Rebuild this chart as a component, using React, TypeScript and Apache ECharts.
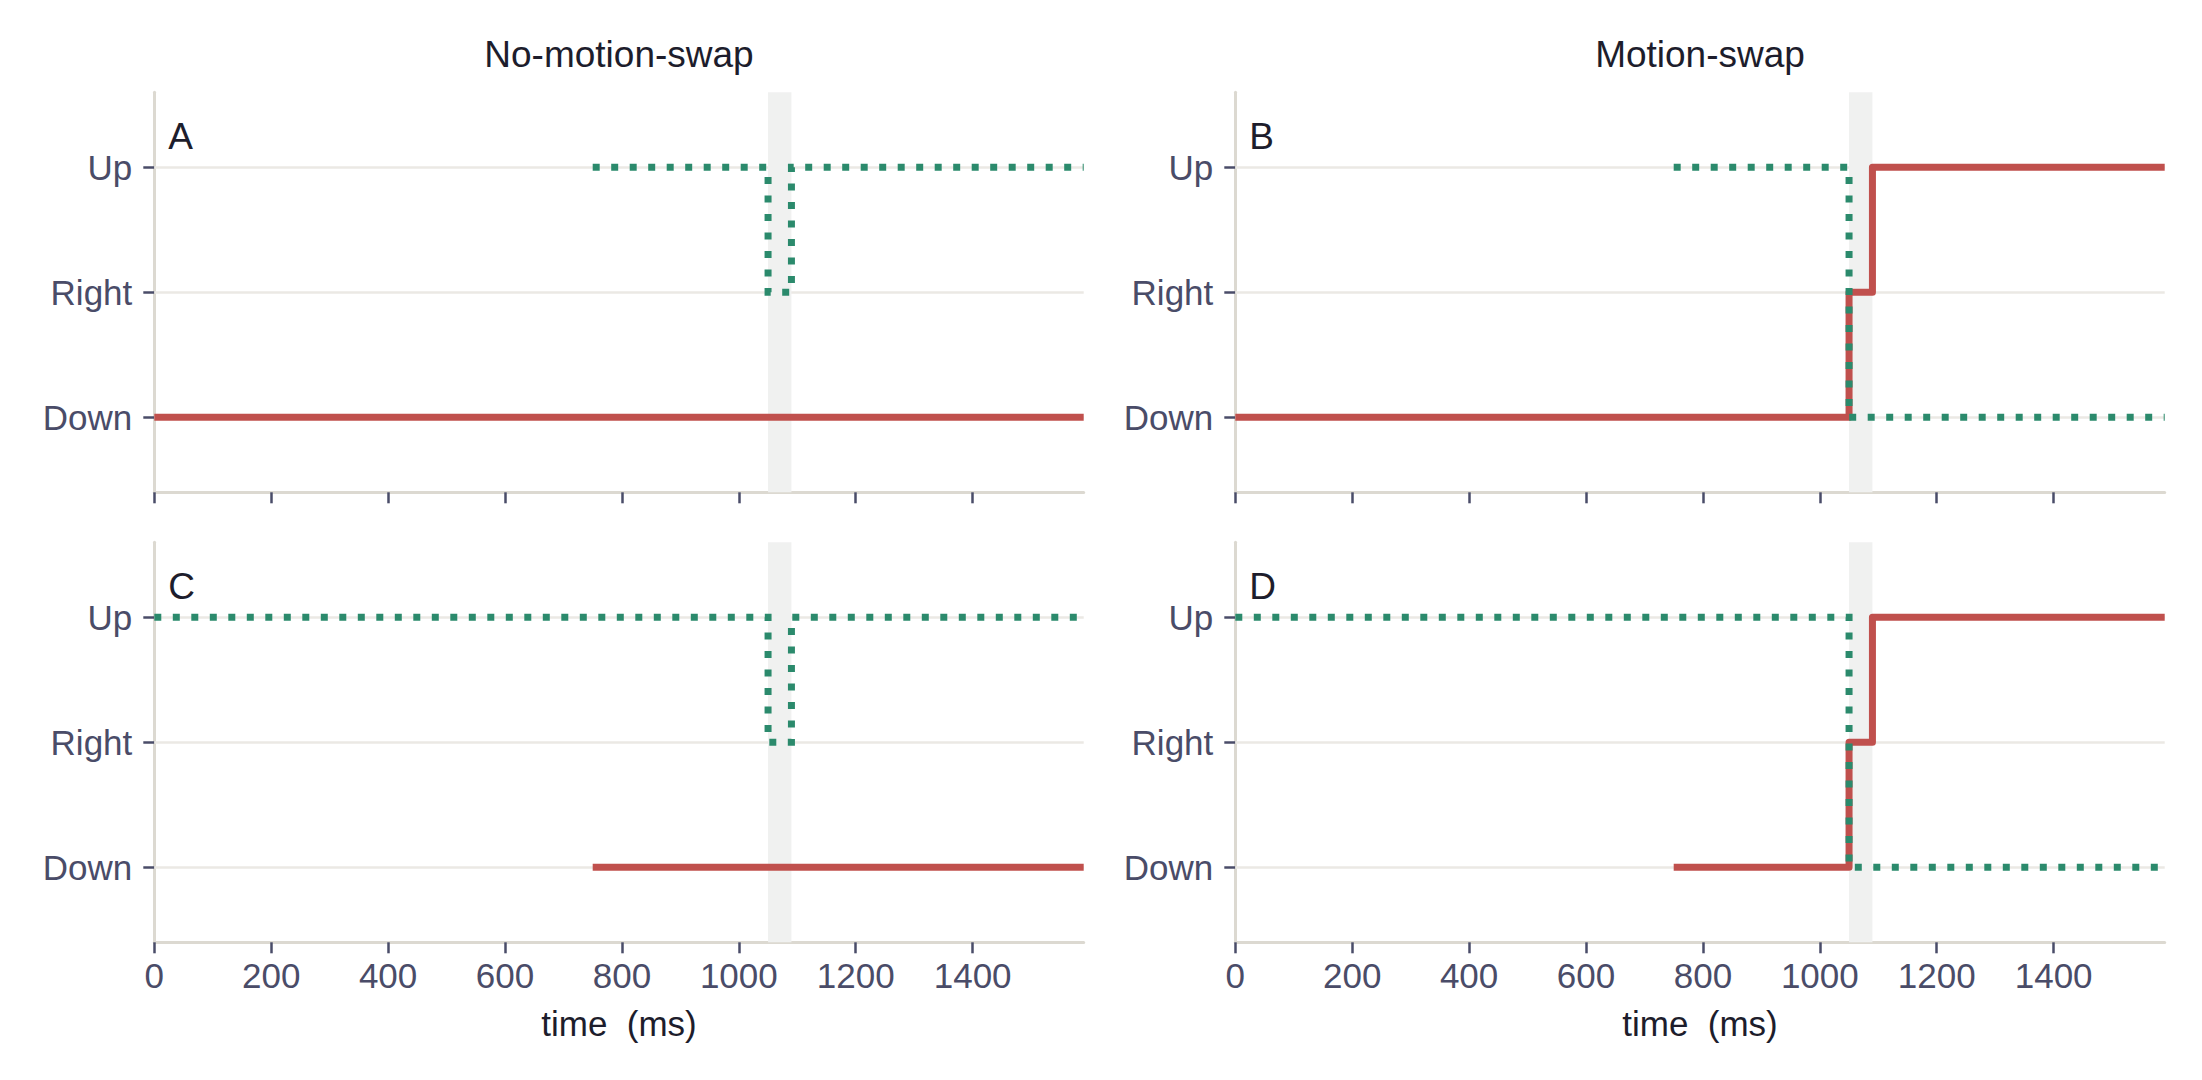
import React, { useEffect, useRef } from 'react';
import * as echarts from 'echarts';

// Direction levels on the y axis (index = plotted value)
const directions = ['Down', 'Right', 'Up'];
const directionTicks = [0, 1, 2];
const timeTicks = [0, 200, 400, 600, 800, 1000, 1200, 1400];
const timeMax = 1590;
const swapWindow = [1050, 1090];
const columnTitles = ['No-motion-swap', 'Motion-swap'];
const panelLetters = ['A', 'B', 'C', 'D'];
const timeLabel = 'time  (ms)';

// Step traces as [time (ms), direction index]
const solidA = [[0, 0], [1590, 0]];
const dottedA = [[750, 2], [1050, 1], [1090, 2], [1590, 2]];
const solidB = [[0, 0], [1050, 1], [1090, 2], [1590, 2]];
const dottedB = [[750, 2], [1050, 0], [1590, 0]];
const solidC = [[750, 0], [1590, 0]];
const dottedC = [[0, 2], [1050, 1], [1090, 2], [1590, 2]];
const solidD = [[750, 0], [1050, 1], [1090, 2], [1590, 2]];
const dottedD = [[0, 2], [1050, 0], [1590, 0]];

const solidTraces = [solidA, solidB, solidC, solidD];
const dottedTraces = [dottedA, dottedB, dottedC, dottedD];

const FONT = "'Liberation Sans', Arial, Helvetica, sans-serif";
const RED = '#c0504d';
const GREEN = '#2b8a6c';
const AXIS = '#dcd9d1';
const TICK = '#4a4c68';
const GRIDLINE = '#ebe9e4';
const BAND = '#f0f1f0';
const DARK = '#1d1d2c';

const colLeft = [154.3, 1235.3];
const rowTop = [92.3, 542.3];
const gridW = 929.4;
const gridH = 400;
const tickFont = 35;
const titleFont = 37;

export default function App() {
  const ref = useRef<HTMLDivElement>(null);

  useEffect(() => {
    if (!ref.current) return;
    const chart = echarts.init(ref.current, null, { renderer: 'svg' });

    const grids: any[] = [];
    const xAxes: any[] = [];
    const yAxes: any[] = [];
    const series: any[] = [];
    const graphics: any[] = [];

    for (let i = 0; i < 4; i++) {
      const col = i % 2;
      const row = Math.floor(i / 2);
      const bottomRow = row === 1;
      grids.push({
        left: colLeft[col],
        top: rowTop[row],
        width: gridW,
        height: gridH,
        containLabel: false,
        outerBoundsMode: 'none',
      });
      xAxes.push({
        type: 'value',
        gridIndex: i,
        min: 0,
        max: timeMax,
        axisLine: { show: true, onZero: false, lineStyle: { color: AXIS, width: 3 } },
        axisTick: {
          show: true,
          customValues: timeTicks,
          length: 11,
          lineStyle: { color: TICK, width: 2.5 },
        },
        axisLabel: {
          show: bottomRow,
          customValues: timeTicks,
          formatter: (v: number) => String(v),
          color: TICK,
          fontSize: tickFont,
          fontFamily: FONT,
          margin: 16,
        },
        splitLine: { show: false },
        name: bottomRow ? timeLabel : '',
        nameLocation: 'middle',
        nameGap: 64,
        nameTextStyle: { color: DARK, fontSize: tickFont, fontFamily: FONT },
      });
      yAxes.push({
        type: 'value',
        gridIndex: i,
        min: -0.6,
        max: 2.6,
        axisLine: { show: true, onZero: false, lineStyle: { color: AXIS, width: 3 } },
        axisTick: {
          show: true,
          customValues: directionTicks,
          length: 11,
          lineStyle: { color: TICK, width: 2.5 },
        },
        axisLabel: {
          customValues: directionTicks,
          formatter: (v: number) => directions[Math.round(v)] ?? '',
          color: TICK,
          fontSize: tickFont,
          fontFamily: FONT,
          margin: 22,
        },
        splitLine: { show: false },
      });
      series.push({
        type: 'line',
        xAxisIndex: i,
        yAxisIndex: i,
        data: solidTraces[i],
        step: 'end',
        symbol: 'none',
        silent: true,
        z: 3,
        emphasis: { disabled: true },
        lineStyle: { color: RED, width: 7, cap: 'butt', join: 'round' },
        markLine: {
          silent: true,
          z: 1,
          symbol: ['none', 'none'],
          label: { show: false },
          emphasis: { disabled: true },
          lineStyle: { color: GRIDLINE, width: 2.5, type: 'solid' },
          data: directionTicks.map((d) => ({ yAxis: d })),
        },
        markArea: {
          silent: true,
          z: 2,
          itemStyle: { color: BAND },
          emphasis: { disabled: true },
          data: [[{ xAxis: swapWindow[0] }, { xAxis: swapWindow[1] }]],
        },
      });
      series.push({
        type: 'line',
        xAxisIndex: i,
        yAxisIndex: i,
        data: dottedTraces[i],
        step: 'end',
        symbol: 'none',
        silent: true,
        z: 4,
        emphasis: { disabled: true },
        lineStyle: { color: GREEN, width: 7, type: [7, 11.5], cap: 'butt', join: 'miter' },
      });
      graphics.push({
        type: 'text',
        x: colLeft[col] + 14,
        y: rowTop[row] + 44,
        silent: true,
        style: {
          text: panelLetters[i],
          fill: DARK,
          font: `${titleFont}px ${FONT}`,
          align: 'left',
          verticalAlign: 'middle',
        },
      });
    }

    columnTitles.forEach((t, c) => {
      graphics.push({
        type: 'text',
        x: colLeft[c] + gridW / 2,
        y: 54,
        silent: true,
        style: {
          text: t,
          fill: DARK,
          font: `${titleFont}px ${FONT}`,
          align: 'center',
          verticalAlign: 'middle',
        },
      });
    });

    chart.setOption({
      animation: false,
      backgroundColor: '#ffffff',
      grid: grids,
      xAxis: xAxes,
      yAxis: yAxes,
      series,
      graphic: graphics,
    });

    return () => chart.dispose();
  }, []);

  return (
    <div
      ref={ref}
      style={{ position: 'fixed', left: 0, top: 0, width: 2202, height: 1080, background: '#fff' }}
    />
  );
}
